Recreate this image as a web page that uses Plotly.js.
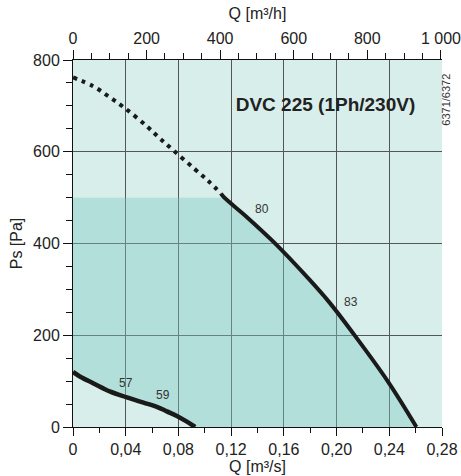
<!DOCTYPE html>
<html>
<head>
<meta charset="utf-8">
<script src="https://cdn.plot.ly/plotly-3.0.1.min.js"></script>
<style>html,body{margin:0;padding:0;background:#fff;}</style>
</head>
<body>
<div id="chart" style="width:461px;height:476px;"></div>
<script>
// ---- data ----
// main fan curve, dotted part (outside working zone), Q [m3/s], Ps [Pa]
const mainDottedQ  = [0, 0.0152, 0.0273, 0.039, 0.0555, 0.0656, 0.0762, 0.0921, 0.1035, 0.1123];
const mainDottedPs = [762, 743, 720, 696, 657, 630, 603, 563, 534, 509];
// main fan curve, solid part
const mainSolidQ  = [0.1123, 0.1141, 0.1318, 0.152, 0.1798, 0.195, 0.2126, 0.239, 0.2606];
const mainSolidPs = [509, 502, 458, 404, 320, 270, 204, 99, 0];
// low-speed curve
const lowQ  = [0, 0.0055, 0.0156, 0.0283, 0.0409, 0.0535, 0.0636, 0.0712, 0.0788, 0.0864, 0.0927];
const lowPs = [120, 109.6, 95, 77, 64.6, 53, 44, 34, 24, 11.6, 0];
// efficiency labels
const effText = ['57', '59', '80', '83'];
const effQ    = [0.0402, 0.0686, 0.1432, 0.2106];
const effPs   = [96, 70, 476, 273];
// working zone upper pressure limit
const zoneTopPs = 500;
// tick labels
const bottomTickVals = [0, 0.04, 0.08, 0.12, 0.16, 0.20, 0.24, 0.28];
const bottomTickText = ['0', '0,04', '0,08', '0,12', '0,16', '0,20', '0,24', '0,28'];
const topTickVals = [0, 200, 400, 600, 800, 1000];
const topTickText = ['0', '200', '400', '600', '800', '1 000'];
const leftTickVals = [0, 200, 400, 600, 800];
const leftTickText = ['0', '200', '400', '600', '800'];

// ---- build working-zone polygon from the curves ----
const allQ = mainDottedQ.concat(mainSolidQ.slice(1));
const allPs = mainDottedPs.concat(mainSolidPs.slice(1));
let zoneQ = [0], zonePs = [zoneTopPs];
for (let i = 1; i < allQ.length; i++) {
  const p0 = allPs[i-1], p1 = allPs[i];
  if (p0 > zoneTopPs && p1 <= zoneTopPs) {
    const t = (p0 - zoneTopPs) / (p0 - p1);
    zoneQ.push(allQ[i-1] + t * (allQ[i] - allQ[i-1]));
    zonePs.push(zoneTopPs);
  }
  if (p1 <= zoneTopPs) { zoneQ.push(allQ[i]); zonePs.push(p1); }
}
for (let i = lowQ.length - 1; i >= 0; i--) { zoneQ.push(lowQ[i]); zonePs.push(lowPs[i]); }
zoneQ.push(0); zonePs.push(zoneTopPs);

const curveColor = '#1a1a1a';
const FONT = 'Liberation Sans, Arial, sans-serif';
const traces = [
  {x: zoneQ, y: zonePs, mode: 'lines', fill: 'toself', fillcolor: 'rgba(124,200,195,0.4)',
   line: {width: 0}, hoverinfo: 'skip', showlegend: false},
  {x: mainDottedQ, y: mainDottedPs, mode: 'lines',
   line: {color: curveColor, width: 4, dash: '4px,5px', shape: 'spline'}, showlegend: false},
  {x: mainSolidQ, y: mainSolidPs, mode: 'lines',
   line: {color: curveColor, width: 4, shape: 'spline'}, showlegend: false},
  {x: lowQ, y: lowPs, mode: 'lines',
   line: {color: curveColor, width: 4.5, shape: 'spline'}, showlegend: false},
  {x: [0], y: [0], xaxis: 'x2', mode: 'markers', marker: {opacity: 0}, hoverinfo: 'skip', showlegend: false}
];

const axisBase = {
  ticks: 'outside', tickcolor: '#111', tickwidth: 1,
  showline: true, linecolor: '#111', linewidth: 1, zeroline: false,
  tickfont: {size: 16, color: '#222', family: FONT}, fixedrange: true,
  ticklabeloverflow: 'allow'
};

const layout = {
  width: 461, height: 476,
  margin: {l: 73, r: 19, t: 60, b: 49, pad: 0},
  paper_bgcolor: '#ffffff', plot_bgcolor: '#d8eeeb',
  separators: ', ',
  font: {family: FONT, size: 16, color: '#222'},
  showlegend: false,
  title: {text: '<b>DVC 225 (1Ph/230V)</b>', x: 0.706, xanchor: 'center', xref: 'container',
          y: 0.781, yanchor: 'middle', yref: 'container',
          font: {size: 19, color: '#222', family: FONT}},
  xaxis: Object.assign({}, axisBase, {
    range: [0, 0.28], tickmode: 'array', tickvals: bottomTickVals, ticktext: bottomTickText,
    ticklen: 8, showgrid: true, gridcolor: '#555', gridwidth: 1,
    minor: {tickmode: 'linear', tick0: 0, dtick: 0.02, ticks: 'outside', ticklen: 5, tickcolor: '#111', showgrid: false},
    title: {text: 'Q [m³/s]', standoff: 0, font: {size: 16}}
  }),
  xaxis2: Object.assign({}, axisBase, {
    overlaying: 'x', side: 'top', anchor: 'y',
    range: [0, 1003], tickmode: 'array', tickvals: topTickVals, ticktext: topTickText,
    ticklen: 9, showgrid: false,
    minor: {tickmode: 'linear', tick0: 0, dtick: 50, ticks: 'outside', ticklen: 6, tickcolor: '#111', showgrid: false},
    title: {text: 'Q [m³/h]', standoff: 5, font: {size: 16}}
  }),
  yaxis: Object.assign({}, axisBase, {
    range: [0, 800], tickmode: 'array', tickvals: leftTickVals, ticktext: leftTickText,
    ticklen: 9, showgrid: true, gridcolor: '#555', gridwidth: 1,
    minor: {tickmode: 'linear', tick0: 0, dtick: 50, ticks: 'outside', ticklen: 6, tickcolor: '#111', showgrid: false},
    title: {text: 'Ps [Pa]', standoff: 6, font: {size: 16}}
  }),
  annotations: effText.map((t, i) => ({
    x: effQ[i], y: effPs[i], xref: 'x', yref: 'y', text: t, showarrow: false,
    font: {size: 12, color: '#333'}
  })).concat([{
    x: 1.034, y: 0.967, xref: 'paper', yref: 'paper', text: '6371/6372', showarrow: false,
    textangle: -90, font: {size: 11, color: '#333'}
  }])
};

Plotly.newPlot('chart', traces, layout, {staticPlot: true, displayModeBar: false});
</script>
</body>
</html>
